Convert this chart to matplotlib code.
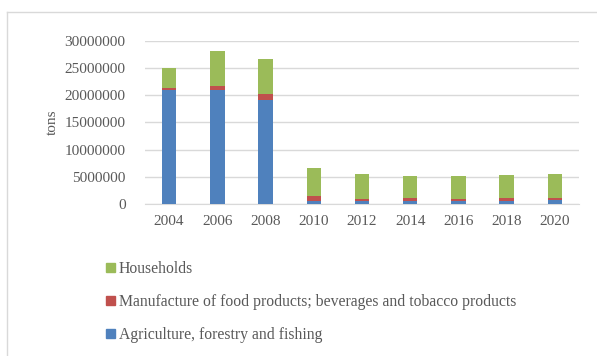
import numpy as np
import matplotlib.pyplot as plt
from matplotlib.patches import Patch
from matplotlib.lines import Line2D

years = ['2004', '2006', '2008', '2010', '2012', '2014', '2016', '2018', '2020']
agriculture = [21000000, 20900000, 19100000, 500000, 500000, 550000, 500000, 550000, 700000]
manufacture = [300000, 900000, 1100000, 900000, 500000, 600000, 500000, 600000, 400000]
households = [3700000, 6400000, 6500000, 5300000, 4600000, 3950000, 4200000, 4250000, 4350000]

labels = ['Agriculture, forestry and fishing',
          'Manufacture of food products; beverages and tobacco products',
          'Households']
colors = ['#4F81BD', '#C0504D', '#9BBB59']
text_color = '#595959'

plt.rcParams['font.family'] = ['Liberation Serif', 'DejaVu Serif']
plt.rcParams['font.size'] = 11

W, H = 597, 356
fig = plt.figure(figsize=(W / 100, H / 100), dpi=100)
ax = fig.add_axes([145 / W, 1 - 204 / H, (579 - 145) / W, (204 - 41) / H])

x = np.arange(len(years))
bottom = np.zeros(len(years))
for vals, col, lab in zip([agriculture, manufacture, households], colors, labels):
    ax.bar(x, vals, width=0.3, bottom=bottom, color=col, label=lab, zorder=3)
    bottom += np.array(vals)

ax.set_xlim(-0.5, len(years) - 0.5)
ax.set_ylim(0, 30000000)
ax.set_yticks(np.arange(0, 30000001, 5000000))
ax.set_yticklabels([str(v) for v in range(0, 30000001, 5000000)])
ax.set_xticks(x)
ax.set_xticklabels(years)
ax.grid(axis='y', color='#D9D9D9', linewidth=1, zorder=0)
for s in ['top', 'right', 'left']:
    ax.spines[s].set_visible(False)
ax.spines['bottom'].set_color('#D9D9D9')
ax.tick_params(length=0, colors=text_color, labelsize=11)
ax.tick_params(axis='y', pad=14)
ax.tick_params(axis='x', pad=8)
ax.set_ylabel('tons', color=text_color, fontsize=11)
ax.yaxis.set_label_coords((59 - 145) / (579 - 145), 0.5)

# legend, top to bottom reversed
handles = [Patch(color=c) for c in colors][::-1]
fig.legend(handles, labels[::-1], loc='upper left',
           bbox_to_anchor=(92 / W, 1 - 247 / H), frameon=False,
           handlelength=0.55, handleheight=0.55, handletextpad=0.25,
           labelspacing=1.08, labelcolor=text_color, fontsize=11.3)

# chart area border (top and left visible)
fig.add_artist(Line2D([7 / W, 1.0], [1 - 12 / H, 1 - 12 / H], color='#D9D9D9', lw=1))
fig.add_artist(Line2D([7 / W, 7 / W], [0, 1 - 12 / H], color='#D9D9D9', lw=1))

fig.savefig('out.png', dpi=100)
